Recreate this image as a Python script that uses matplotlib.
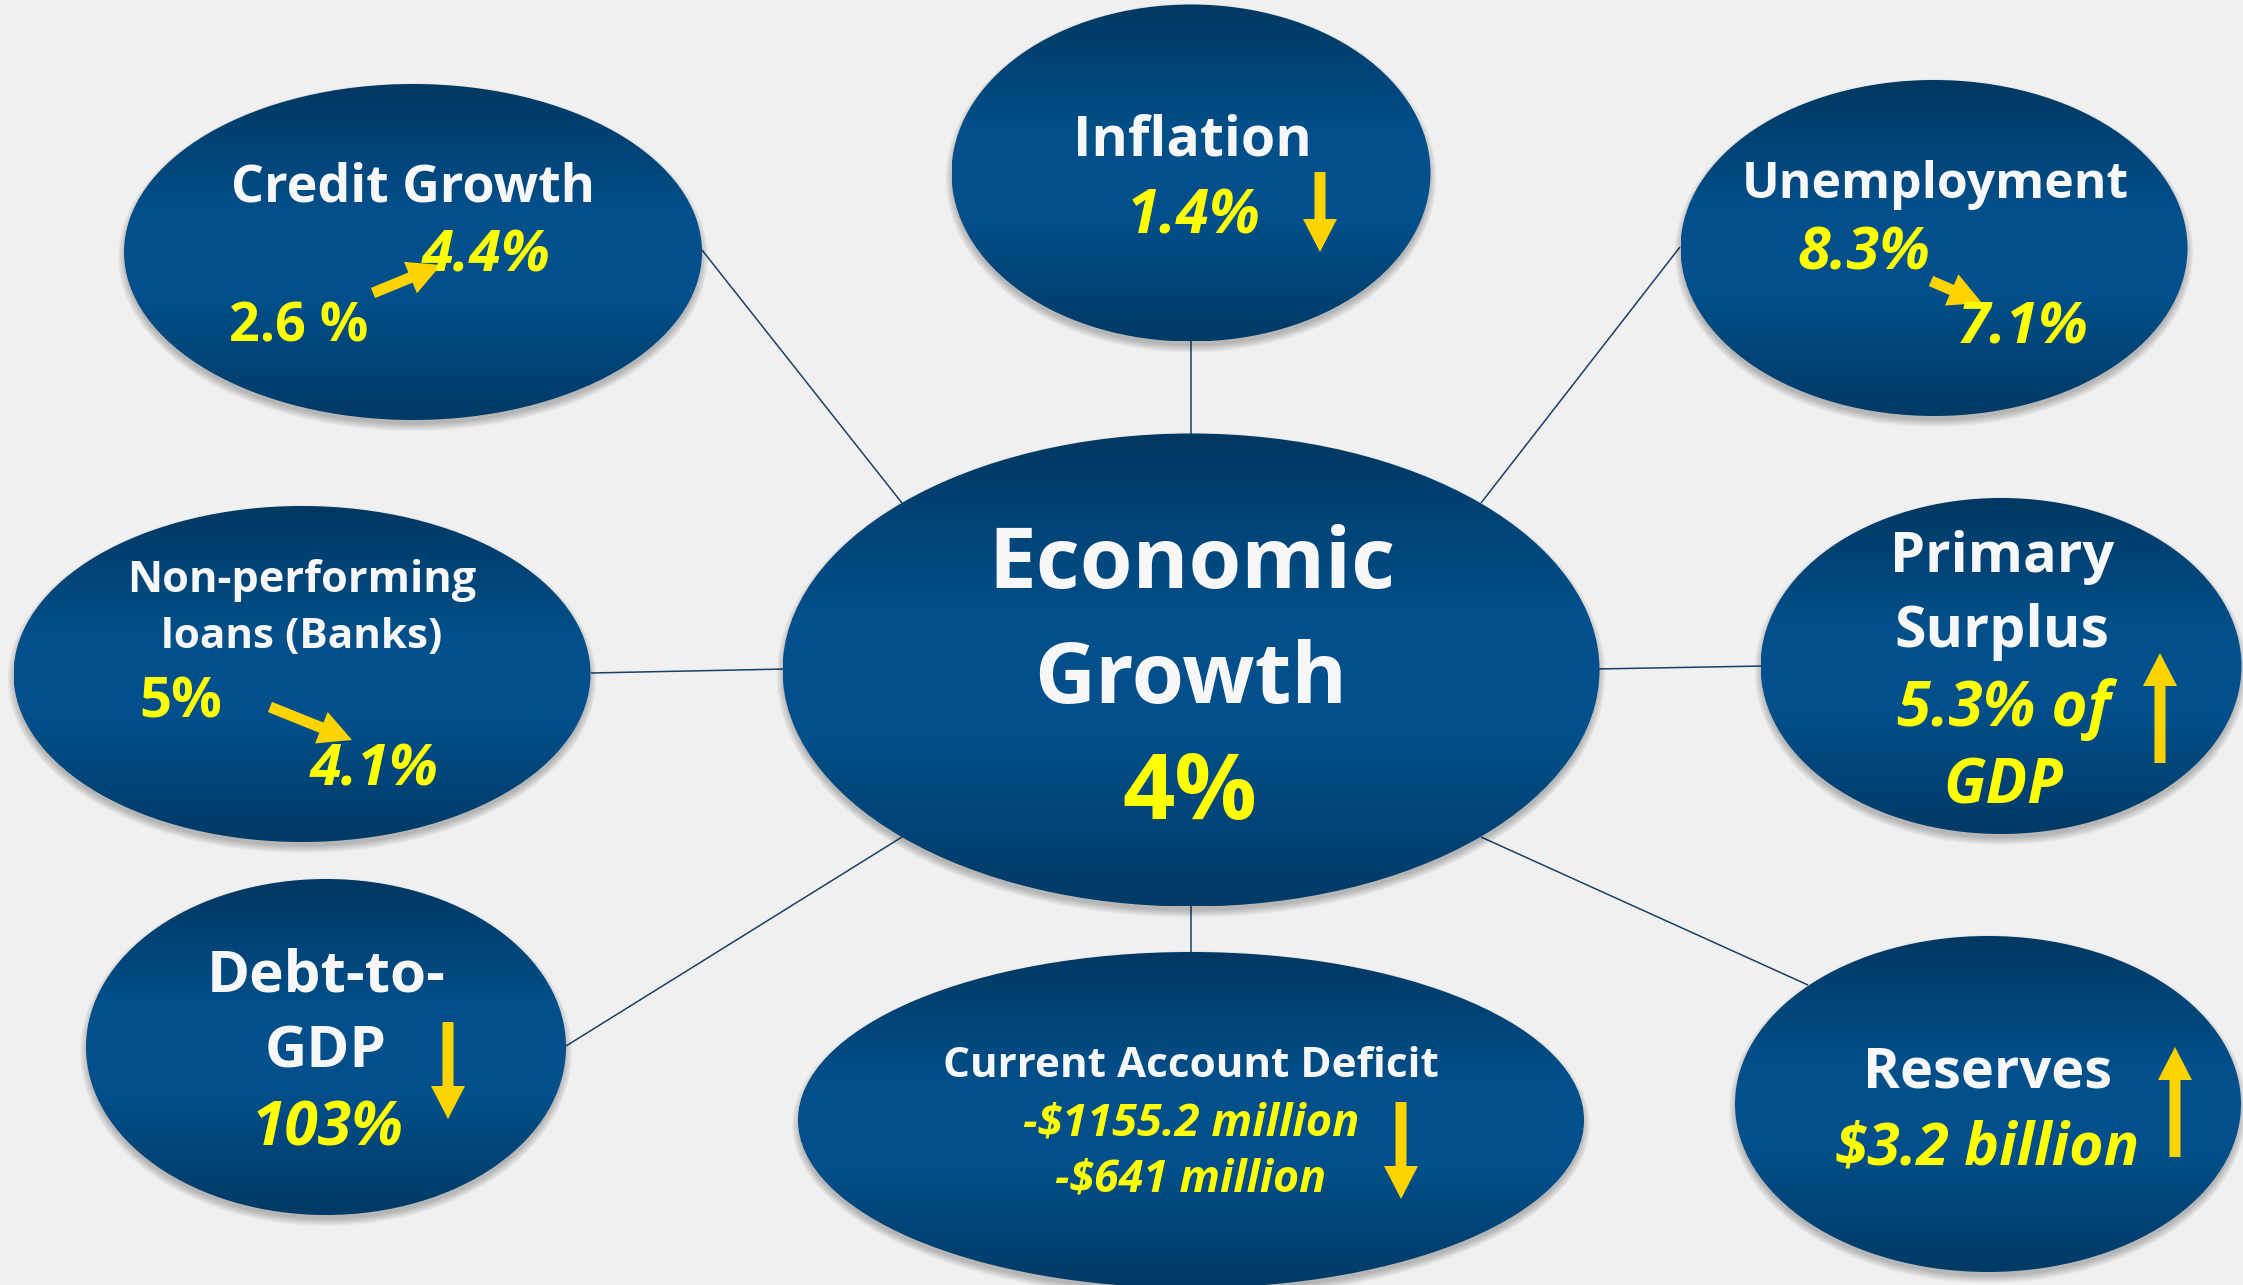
import matplotlib
matplotlib.use("Agg")
import matplotlib.pyplot as plt
import numpy as np
from matplotlib.patches import Ellipse, FancyArrow
from matplotlib.colors import LinearSegmentedColormap

# ---------------- data ----------------
center_title = "Economic\nGrowth"
center_value = "4%"
indicators = ["Credit Growth", "Inflation", "Unemployment",
              "Non-performing\nloans (Banks)", "Primary\nSurplus",
              "Debt-to-\nGDP", "Current Account Deficit", "Reserves"]
previous_values = ["2.6 %", None, "8.3%", "5%", None, None,
                   "-$1155.2 million", None]
current_values = ["4.4%", "1.4%", "7.1%", "4.1%", "5.3% of\nGDP", "103%",
                  "-$641 million", "$3.2 billion"]
trend = ["up", "down", "down", "down", "up", "down", "down", "up"]

# ---------------- layout (pixel space) ----------------
W, H = 2243, 1285
BG = "#F0F0F0"
WHITE = "#F7F7F7"
YELLOW = "#FFFF00"
GOLD = "#FDD400"
LINE = "#1B3F66"
FONT = "Open Sans"

geom_center = (1191, 670, 817, 473)
geom = [(413, 252, 578, 336), (1191, 173, 479, 337), (1934, 248, 507, 336),
        (302, 674, 577, 336), (2001, 666, 481, 336), (326, 1047, 480, 336),
        (1191, 1120, 786, 336), (1988, 1104, 506, 336)]

connectors = [((702, 250), (902, 503)), ((1191, 340), (1191, 436)),
              ((1680, 247), (1481, 503)), ((591, 673), (786, 669)),
              ((1596, 669), (1763, 666)), ((566, 1046), (902, 837)),
              ((1191, 904), (1191, 954)), ((1481, 837), (1808, 985))]

center_title_pos = [(1192, 588, 407), (1191, 703, 313)]
center_value_pos = (1190, 819, 135)
title_pos = [[(413, 202, 364)], [(1192, 156, 239)], [(1935, 198, 387)],
             [(302, 592, 348), (302, 648, 281)],
             [(2002, 572, 224), (2002, 647, 215)],
             [(326, 992, 239), (326, 1067, 122)],
             [(1191, 1077, 495)], [(1988, 1087, 249)]]
prev_pos = [(299, 342, 139), None, (1864, 270, 133), (181, 717, 83), None, None,
            (1191, 1135, 336), None]
prev_italic = [False, None, True, False, None, None, True, None]
cur_pos = [[(486, 272, 129)], [(1194, 233, 134)], [(2023, 343, 131)],
           [(374, 785, 129)], [(2004, 726, 214), (2003, 803, 120)],
           [(328, 1146, 152)], [(1191, 1192, 272)], [(1987, 1165, 305)]]
arrows = [((373, 293), (441, 265)), ((1320, 172), (1320, 252)),
          ((1931, 281), (1982, 303)), ((270, 707), (352, 740)),
          ((2160, 763), (2160, 653)), ((448, 1022), (448, 1119)),
          ((1401, 1102), (1401, 1199)), ((2175, 1157), (2175, 1047))]

# ---------------- figure ----------------
fig = plt.figure(figsize=(W / 100, H / 100), dpi=100, facecolor=BG)
ax = fig.add_axes([0, 0, 1, 1])
ax.set_facecolor(BG)

cmap = LinearSegmentedColormap.from_list(
    "blue", [(0.0, "#003862"), (0.38, "#024F8A"), (0.62, "#02508C"),
             (1.0, "#003A66")])
grad = np.linspace(0, 1, 256).reshape(-1, 1)

for (p0, p1) in connectors:
    ax.plot([p0[0], p1[0]], [p0[1], p1[1]], color=LINE, lw=1.1, zorder=1,
            solid_capstyle="butt")


def bubble(cx, cy, w, h):
    for k in range(8):
        ax.add_patch(Ellipse((cx, cy + 5), w + 2 * k - 2, h + 2 * k - 2,
                             facecolor="black", edgecolor="none",
                             alpha=0.03, zorder=2))
    e = Ellipse((cx, cy), w, h, facecolor="none", edgecolor="none", zorder=3)
    ax.add_patch(e)
    im = ax.imshow(grad, cmap=cmap, aspect="auto", origin="upper",
                   extent=(cx - w / 2, cx + w / 2, cy + h / 2, cy - h / 2),
                   zorder=3, interpolation="bilinear")
    im.set_clip_path(e)


bubble(*geom_center)
for g in geom:
    bubble(*g)

fit = []


def put(txt, pos, color, italic):
    x, y, tw = pos
    t = ax.text(x, y, txt, ha="center", va="baseline", color=color,
                fontsize=30, fontfamily=FONT, fontweight="bold",
                fontstyle="italic" if italic else "normal", zorder=6)
    fit.append((t, tw))


for line, pos in zip(center_title.split("\n"), center_title_pos):
    put(line, pos, WHITE, False)
put(center_value, center_value_pos, YELLOW, False)

for i in range(len(indicators)):
    for line, pos in zip(indicators[i].split("\n"), title_pos[i]):
        put(line, pos, WHITE, False)
    if previous_values[i] is not None:
        put(previous_values[i], prev_pos[i], YELLOW, prev_italic[i])
    for line, pos in zip(current_values[i].split("\n"), cur_pos[i]):
        put(line, pos, YELLOW, True)
    (x0, y0), (x1, y1) = arrows[i]
    ax.add_patch(FancyArrow(x0, y0, x1 - x0, y1 - y0, width=11,
                            head_width=34, head_length=33,
                            length_includes_head=True, facecolor=GOLD,
                            edgecolor="none", zorder=5))

ax.set_xlim(0, W)
ax.set_ylim(H, 0)
ax.axis("off")

fig.canvas.draw()
r = fig.canvas.get_renderer()
for _ in range(2):
    for t, tw in fit:
        w = t.get_window_extent(r).width
        t.set_fontsize(t.get_fontsize() * tw / w)

fig.savefig("out.png", dpi=100, facecolor=BG)
